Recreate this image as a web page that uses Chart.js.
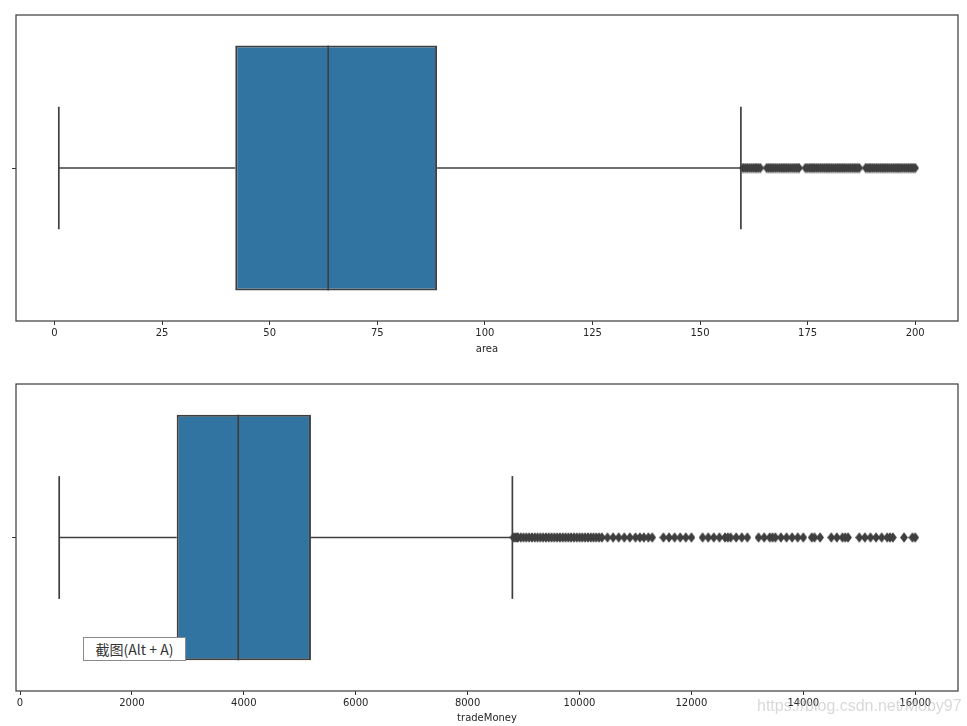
<!DOCTYPE html>
<html>
<head>
<meta charset="utf-8">
<script src="https://cdn.jsdelivr.net/npm/chart.js@4.4.0/dist/chart.umd.min.js"></script>
<style>
    html, body { margin: 0; padding: 0; background: #fff; }
    body { width: 967px; height: 726px; position: relative; overflow: hidden; }
    canvas { position: absolute; left: 0; }
    #areaChart { top: 0; }
    #moneyChart { top: 370px; }
    .tip {
        position: absolute; left: 83px; top: 637px; width: 103px; height: 24px;
        box-sizing: border-box; background: #fff; border: 1px solid #8a8a8a;
        font: 14px "Noto Sans CJK SC"; color: #333; line-height: 22px; text-align: center;
    }
    .wm {
        position: absolute; left: 757px; top: 697px;
        font: 16px "Liberation Sans"; color: rgba(185, 185, 185, 0.55); white-space: nowrap;
    }
</style>
</head>
<body>
<canvas id="areaChart" width="967" height="362"></canvas>
<canvas id="moneyChart" width="967" height="356"></canvas>
<div class="tip">截图(Alt + A)</div>
<div class="wm">https://blog.csdn.net/Moby97</div>
<script>
// box stats: [whisker low, q1, median, q3, whisker high]
const areaBox = [1, 42, 63.6, 88.9, 159.5];
const areaOutliers = [160, 160.5, 161, 161.5, 162, 162.5, 163, 163.5, 164, 165.5, 166, 166.5,
    167, 167.5, 168, 168.5, 169, 169.5, 170, 170.5, 171, 171.5, 172, 172.5, 173, 174.5, 175,
    175.5, 176, 176.5, 177, 177.5, 178, 178.5, 179, 179.5, 180, 180.5, 181, 181.5, 182, 182.5,
    183, 183.5, 184, 184.5, 185, 185.5, 186, 186.5, 187, 188.5, 189, 189.5, 190, 190.5, 191,
    191.5, 192, 192.5, 193, 193.5, 194, 194.5, 195, 195.5, 196, 196.5, 197, 197.5, 198, 198.5,
    199, 199.5, 200];
const areaTicks = [0, 25, 50, 75, 100, 125, 150, 175, 200];
const areaRange = [-8.95, 209.95];

const moneyBox = [700, 2800, 3900, 5200, 8800];
const moneyOutliers = [8820, 8850, 8880, 8900, 8950, 9000, 9050, 9100, 9150, 9200, 9250, 9300,
    9350, 9400, 9450, 9500, 9550, 9600, 9650, 9700, 9750, 9800, 9850, 9900, 9950, 10000, 10050,
    10100, 10150, 10200, 10250, 10300, 10350, 10400,
    10500, 10600, 10700, 10800, 10900, 11000, 11080, 11150, 11230, 11300,
    11500, 11600, 11700, 11800, 11900, 12000,
    12200, 12300, 12400, 12500, 12600, 12650, 12700, 12800, 12900, 13000,
    13200, 13300, 13400, 13450, 13500, 13600, 13700, 13800, 13900, 14000,
    14150, 14200, 14300,
    14500, 14600, 14700, 14750, 14800,
    15000, 15100, 15200, 15300, 15400, 15500, 15550, 15600,
    15800, 15950, 16000];
const moneyTicks = [0, 2000, 4000, 6000, 8000, 10000, 12000, 14000, 16000];
const moneyRange = [-72, 16765];

const boxColor = "#3274a1";
const lineColor = "#3f3f3f";

// thin diamond like seaborn's "d" flier marker
const diamond = document.createElement("canvas");
diamond.width = 8;
diamond.height = 11;
const dctx = diamond.getContext("2d");
dctx.fillStyle = lineColor;
dctx.beginPath();
dctx.moveTo(4, 0.2);
dctx.lineTo(7.9, 5.5);
dctx.lineTo(4, 10.8);
dctx.lineTo(0.1, 5.5);
dctx.closePath();
dctx.fill();

const framePlugin = {
    id: "frame",
    afterDatasetsDraw(chart) {
        const { ctx, chartArea: a } = chart;
        ctx.save();
        ctx.strokeStyle = "#3a3a3a";
        ctx.lineWidth = 1.2;
        ctx.strokeRect(a.left, a.top, a.right - a.left, a.bottom - a.top);
        ctx.restore();
    },
};

const segment = (points) => ({
    type: "scatter",
    data: points,
    showLine: true,
    borderColor: lineColor,
    borderWidth: 1.7,
    pointRadius: 0,
    order: 1,
});

function makeBoxChart(id, box, outliers, ticks, range, label, pad, axisHeight, titlePad) {
    const [lo, q1, med, q3, hi] = box;
    return new Chart(document.getElementById(id), {
        type: "scatter",
        data: {
            datasets: [
                {
                    type: "bar",
                    indexAxis: "y",
                    data: [{ x: [q1, q3], y: 0 }],
                    backgroundColor: boxColor,
                    borderColor: lineColor,
                    borderWidth: 2,
                    borderSkipped: false,
                    categoryPercentage: 1,
                    barPercentage: 0.8,
                    order: 2,
                },
                segment([{ x: med, y: -0.4 }, { x: med, y: 0.4 }]),
                segment([{ x: lo, y: 0 }, { x: q1, y: 0 }]),
                segment([{ x: q3, y: 0 }, { x: hi, y: 0 }]),
                segment([{ x: lo, y: -0.2 }, { x: lo, y: 0.2 }]),
                segment([{ x: hi, y: -0.2 }, { x: hi, y: 0.2 }]),
                {
                    type: "scatter",
                    data: outliers.map((v) => ({ x: v, y: 0 })),
                    pointStyle: diamond,
                    pointRadius: 4,
                    order: 0,
                },
            ],
        },
        options: {
            responsive: false,
            animation: false,
            devicePixelRatio: 1,
            layout: { padding: pad },
            plugins: { legend: { display: false }, tooltip: { enabled: false } },
            scales: {
                x: {
                    type: "linear",
                    min: range[0],
                    max: range[1],
                    offset: false,
                    afterBuildTicks: (scale) => { scale.ticks = ticks.map((v) => ({ value: v })); },
                    afterFit: (scale) => { scale.height = axisHeight; },
                    border: { display: false },
                    grid: { offset: false, drawOnChartArea: false, drawTicks: true, tickLength: 4, tickColor: "#333", tickWidth: 1 },
                    ticks: {
                        color: "#262626",
                        padding: 2,
                        maxRotation: 0,
                        font: { family: "DejaVu Sans", size: 10 },
                        callback: (v) => String(v),
                    },
                    title: {
                        display: true,
                        text: label,
                        color: "#262626",
                        font: { family: "DejaVu Sans", size: 10 },
                        padding: { top: 0, bottom: titlePad },
                    },
                },
                y: {
                    type: "linear",
                    min: -0.5,
                    max: 0.5,
                    offset: false,
                    afterBuildTicks: (scale) => { scale.ticks = [{ value: 0 }]; },
                    afterFit: (scale) => { scale.width = 4; },
                    border: { display: false },
                    grid: { offset: false, drawOnChartArea: false, drawTicks: true, tickLength: 4, tickColor: "#333", tickWidth: 1 },
                    ticks: { display: false },
                },
            },
        },
        plugins: [framePlugin],
    });
}

makeBoxChart("areaChart", areaBox, areaOutliers, areaTicks, areaRange, "area",
    { left: 12, right: 9, top: 15, bottom: 0 }, 41, 7);
makeBoxChart("moneyChart", moneyBox, moneyOutliers, moneyTicks, moneyRange, "tradeMoney",
    { left: 12, right: 9, top: 14, bottom: 0 }, 35, 2);
</script>
</body>
</html>
